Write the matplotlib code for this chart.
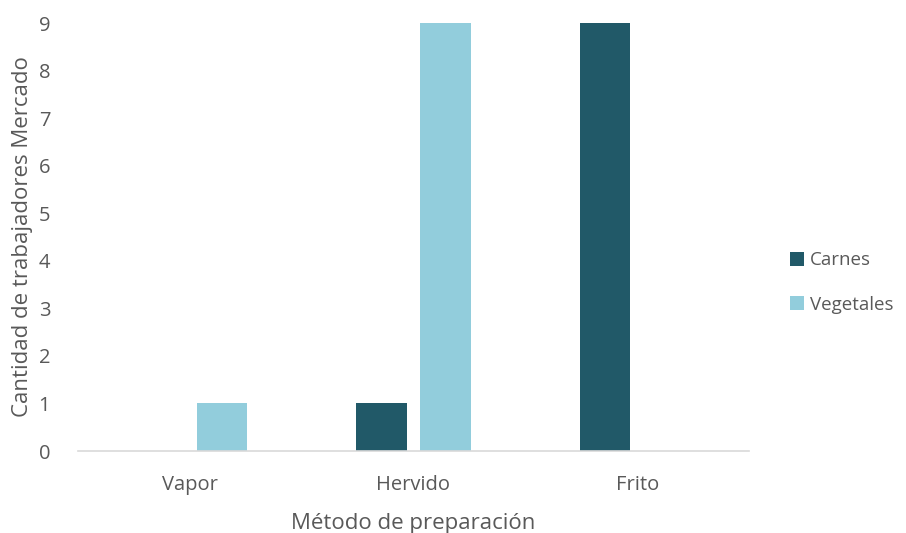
import matplotlib.pyplot as plt
import numpy as np

categories = ["Vapor", "Hervido", "Frito"]
carnes = [0, 1, 9]
vegetales = [1, 9, 0]

plt.rcParams['font.family'] = ['Open Sans', 'DejaVu Sans']
text_color = '#595959'

fig = plt.figure(figsize=(9.06, 5.33), dpi=100)
ax = fig.add_axes([0.0861, 0.1538, 0.7406, 0.803])

x = np.arange(len(categories))
width = 0.224
offset = 0.143
ax.bar(x - offset, carnes, width, color='#215968', label='Carnes')
ax.bar(x + offset, vegetales, width, color='#92CDDC', label='Vegetales')

ax.set_xlim(-0.5, len(categories) - 0.5)
ax.set_ylim(0, 9)
ax.set_yticks(range(0, 10))
ax.set_xticks(x)
ax.set_xticklabels(categories)

for side in ['top', 'right', 'left']:
    ax.spines[side].set_visible(False)
ax.spines['bottom'].set_color('#D9D9D9')
ax.spines['bottom'].set_linewidth(1.2)
ax.tick_params(axis='both', length=0, labelsize=14.5, colors=text_color)
ax.tick_params(axis='x', pad=17)
ax.tick_params(axis='y', pad=20)

ax.set_xlabel('Método de preparación', fontsize=16, color=text_color, labelpad=13)
ax.set_ylabel('Cantidad de trabajadores Mercado', fontsize=16, color=text_color, labelpad=4)

fig.legend(loc='center left', bbox_to_anchor=(0.853, 0.47), frameon=False,
           fontsize=13.5, labelcolor=text_color, handlelength=0.75, handleheight=0.75,
           handletextpad=0.35, labelspacing=1.4)

fig.savefig('out.png', dpi=100)
